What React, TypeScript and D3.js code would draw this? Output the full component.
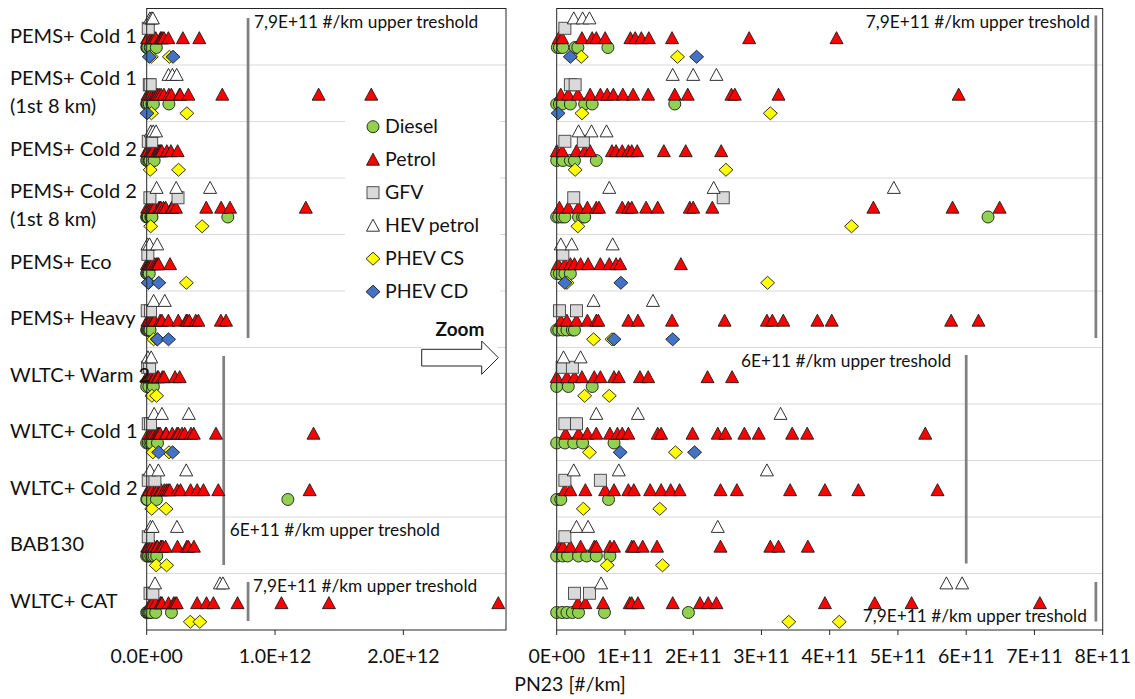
import React from "react";
import * as d3 from "d3";

// ---------- data (PN23 emissions, values in units of 1e11 #/km) ----------
const categories = [
  "PEMS+ Cold 1",
  "PEMS+ Cold 1\n(1st 8 km)",
  "PEMS+ Cold 2",
  "PEMS+ Cold 2\n(1st 8 km)",
  "PEMS+ Eco",
  "PEMS+ Heavy",
  "WLTC+ Warm 2",
  "WLTC+ Cold 1",
  "WLTC+ Cold 2",
  "BAB130",
  "WLTC+ CAT",
];

const UNIT = 1e11;

const diesel: number[][] = [
  [0.01, 0.04, 0.09, 0.27, 0.31, 0.75],
  [0, 0.04, 0.08, 0.2, 0.41, 0.52, 1.73],
  [0, 0.09, 0.2, 0.26, 0.58],
  [0, 0.03, 0.08, 0.12, 0.32, 0.38, 0.41, 6.32],
  [0, 0.04, 0.12, 0.2],
  [0, 0.03, 0.09, 0.15, 0.23, 0.26],
  [0, 0.17, 0.52],
  [0, 0.12, 0.25, 0.38, 0.84],
  [0, 0.06, 0.76, 11.0],
  [0, 0.09, 0.16, 0.32, 0.44, 0.58, 0.78],
  [0, 0.08, 0.15, 0.23, 0.32, 0.7, 1.93],
];

const petrol: number[][] = [
  [0.03, 0.08, 0.37, 0.52, 0.58, 0.71, 1.08, 1.15, 1.24, 1.35, 1.69, 2.82, 4.1],
  [0.06, 0.17, 0.31, 0.49, 0.64, 0.74, 0.83, 0.97, 1.12, 1.34, 1.73, 1.92, 2.56, 2.61, 3.25, 5.89, 13.4, 17.5],
  [0.0, 0.08, 0.29, 0.41, 0.49, 0.81, 0.87, 0.96, 1.05, 1.1, 1.18, 1.57, 1.89, 2.41],
  [0.04, 0.17, 0.32, 0.45, 0.58, 0.62, 0.96, 1.05, 1.1, 1.31, 1.48, 1.95, 2.0, 2.28, 4.64, 5.8, 6.49, 12.4],
  [0.02, 0.12, 0.2, 0.26, 0.35, 0.46, 0.64, 0.77, 0.87, 0.93, 1.82],
  [0.06, 0.15, 0.29, 0.45, 0.58, 0.61, 1.05, 1.19, 1.69, 2.46, 3.08, 3.16, 3.32, 3.82, 4.03, 5.78, 6.18],
  [0, 0.15, 0.26, 0.37, 0.55, 0.64, 0.84, 0.91, 1.22, 1.34, 2.21, 2.57],
  [0.13, 0.32, 0.45, 0.58, 0.78, 0.89, 0.96, 1.05, 1.48, 1.53, 1.99, 2.36, 2.47, 2.75, 2.96, 3.45, 3.67, 5.4, 13.0],
  [0.12, 0.2, 0.42, 0.71, 0.84, 1.05, 1.13, 1.37, 1.53, 1.67, 1.8, 2.4, 2.64, 3.42, 3.93, 4.42, 5.58, 12.7],
  [0.04, 0.09, 0.2, 0.35, 0.55, 0.58, 0.78, 0.84, 1.1, 1.13, 1.26, 1.47, 2.4, 3.13, 3.25, 3.68],
  [0.31, 0.42, 0.68, 1.07, 1.1, 1.19, 1.7, 2.1, 2.22, 2.34, 3.93, 4.66, 5.2, 7.08, 10.5, 14.2, 27.4],
];

const gfv: number[][] = [
  [0.12],
  [0.2, 0.27],
  [0.12, 0.39],
  [0.25, 2.44],
  [0.09],
  [0.04, 0.29],
  [0.08, 0.23],
  [0.12, 0.29],
  [0.12, 0.64],
  [0.12],
  [0.26, 0.48],
];

const hevPetrol: number[][] = [
  [0.25, 0.38, 0.48],
  [1.7, 2.0, 2.34],
  [0.32, 0.51, 0.73],
  [0.77, 2.3, 4.94],
  [0.06, 0.22, 0.82],
  [0.54, 1.41],
  [0.1, 0.35],
  [0.58, 1.19, 3.28],
  [0.25, 0.91, 3.08],
  [0.29, 0.46, 2.36],
  [0.65, 5.71, 5.94],
];

const phevCS: number[][] = [
  [0.36, 1.77],
  [0.37, 3.13],
  [0.27, 2.48],
  [0.31, 4.32],
  [0.15, 3.09],
  [0.54, 0.81],
  [0.41, 0.77],
  [0.48, 1.74],
  [0.39, 1.51],
  [0.74, 1.55],
  [3.4, 4.14],
];

const phevCD: number[][] = [
  [0.2, 2.05],
  [0.02],
  [],
  [],
  [0.12, 0.94],
  [0.84, 1.7],
  [],
  [0.93, 2.02],
  [],
  [],
  [],
];

const seriesNames = ["Diesel", "Petrol", "GFV", "HEV petrol", "PHEV CS", "PHEV CD"];

const leftTicks = [0, 1e12, 2e12];
const leftTickLabels = ["0.0E+00", "1.0E+12", "2.0E+12"];
const rightTicks = [0, 1e11, 2e11, 3e11, 4e11, 5e11, 6e11, 7e11, 8e11];
const rightTickLabels = ["0E+00", "1E+11", "2E+11", "3E+11", "4E+11", "5E+11", "6E+11", "7E+11", "8E+11"];

const threshold79 = 7.9e11;
const threshold6 = 6e11;
const label79 = "7,9E+11 #/km upper treshold";
const label6 = "6E+11 #/km upper treshold";
const axisTitle = "PN23 [#/km]";

// ---------- styling ----------
const FONT = "Lato, 'Open Sans', Arial, sans-serif";
const CAT_FS = 20;
const TICK_FS = 19.5;
const THR_FS = 17.3;
const LEG_FS = 19.5;

type Shape = "circle" | "triangle" | "square" | "diamond";
interface SeriesDef {
  name: string;
  data: number[][];
  shape: Shape;
  fill: string;
  stroke: string;
  offset: number; // fraction of band
}

const series: SeriesDef[] = [
  { name: seriesNames[0], data: diesel, shape: "circle", fill: "#92D050", stroke: "#1a1a1a", offset: 0.69 },
  { name: seriesNames[1], data: petrol, shape: "triangle", fill: "#FF0000", stroke: "#1a1a1a", offset: 0.525 },
  { name: seriesNames[2], data: gfv, shape: "square", fill: "#D9D9D9", stroke: "#404040", offset: 0.35 },
  { name: seriesNames[3], data: hevPetrol, shape: "triangle", fill: "#FFFFFF", stroke: "#1a1a1a", offset: 0.175 },
  { name: seriesNames[4], data: phevCS, shape: "diamond", fill: "#FFFF00", stroke: "#1a1a1a", offset: 0.855 },
  { name: seriesNames[5], data: phevCD, shape: "diamond", fill: "#4472C4", stroke: "#1a1a1a", offset: 0.855 },
];

function Marker({ shape, x, y, fill, stroke }: { shape: Shape; x: number; y: number; fill: string; stroke: string }) {
  const sw = 0.9;
  if (shape === "circle") return <circle cx={x} cy={y} r={6} fill={fill} stroke={stroke} strokeWidth={sw} />;
  if (shape === "square")
    return <rect x={x - 6} y={y - 6} width={12} height={12} fill={fill} stroke={stroke} strokeWidth={sw} />;
  if (shape === "triangle")
    return (
      <path
        d={`M${x},${y - 6.5} L${x + 6.5},${y + 5.5} L${x - 6.5},${y + 5.5} Z`}
        fill={fill}
        stroke={stroke}
        strokeWidth={sw}
      />
    );
  return (
    <path
      d={`M${x},${y - 6.5} L${x + 7},${y} L${x},${y + 6.5} L${x - 7},${y} Z`}
      fill={fill}
      stroke={stroke}
      strokeWidth={sw}
    />
  );
}

export default function App() {
  const W = 1135;
  const H = 699;
  const top = 8.5;
  const bottom = 630;

  const y = d3
    .scaleBand<number>()
    .domain(categories.map((_, i) => i))
    .range([top, bottom])
    .paddingInner(0)
    .paddingOuter(0);
  const bw = y.bandwidth();

  const xL = d3.scaleLinear().domain([0, 2.8e12]).range([146.7, 506]);
  const xR = d3.scaleLinear().domain([0, 8e11]).range([556.7, 1102.7]);

  const gridLines = categories.slice(0, -1).map((_, i) => (y(i) as number) + bw);

  const renderPoints = (x: d3.ScaleLinear<number, number>, maxVal: number, key: string) =>
    series.map((s) => (
      <g key={key + s.name}>
        {s.data.map((row, ci) =>
          row
            .map((v) => v * UNIT)
            .filter((v) => v <= maxVal)
            .map((v, j) => (
              <Marker
                key={ci + "-" + j}
                shape={s.shape}
                x={x(v)}
                y={(y(ci) as number) + bw * s.offset}
                fill={s.fill}
                stroke={s.stroke}
              />
            ))
        )}
      </g>
    ));

  const bandTop = (i: number) => y(i) as number;
  const bandBot = (i: number) => (y(i) as number) + bw;
  const lineColor = "#808080";
  const axisColor = "#262626";

  // legend
  const legendX = 373;
  const legendY0 = 126.7;
  const legendStep = 33;

  return (
    <svg
      width={W}
      height={H}
      style={{ position: "absolute", left: 0, top: 0, background: "#fff" }}
      fontFamily={FONT}
    >
      <rect x={0} y={0} width={W} height={H} fill="#fff" />

      {/* ---------- LEFT PANEL ---------- */}
      <g>
        {gridLines.map((gy, i) => (
          <line key={"gl" + i} x1={xL.range()[0]} x2={xL.range()[1]} y1={gy} y2={gy} stroke="#D9D9D9" strokeWidth={1} />
        ))}
        {/* thresholds */}
        <line x1={xL(threshold79)} x2={xL(threshold79)} y1={bandTop(0) + 9.5} y2={bandBot(5) - 9.5} stroke={lineColor} strokeWidth={2.75} />
        <line x1={xL(threshold6)} x2={xL(threshold6)} y1={bandTop(6) + 8.5} y2={bandBot(9) - 8.5} stroke={lineColor} strokeWidth={2.75} />
        <line x1={xL(threshold79)} x2={xL(threshold79)} y1={bandTop(10) + 8.5} y2={bandBot(10) - 9} stroke={lineColor} strokeWidth={2.75} />
        <text x={xL(threshold79) + 6} y={bandTop(0) + 15.5} fontSize={THR_FS} dominantBaseline="middle" fill="#111">
          {label79}
        </text>
        <text x={xL(threshold6) + 6} y={bandTop(9) + 15} fontSize={THR_FS} dominantBaseline="middle" fill="#111">
          {label6}
        </text>
        <text x={xL(threshold79) + 5} y={bandTop(10) + 14.5} fontSize={THR_FS} dominantBaseline="middle" fill="#111">
          {label79}
        </text>

        {renderPoints(xL, 2.8e12, "L")}

        {/* frame */}
        <rect
          x={xL.range()[0]}
          y={top}
          width={xL.range()[1] - xL.range()[0]}
          height={bottom - top}
          fill="none"
          stroke={axisColor}
          strokeWidth={1}
        />
        {leftTicks.map((t, i) => (
          <g key={"lt" + i}>
            <line x1={xL(t)} x2={xL(t)} y1={bottom} y2={bottom + 5} stroke={axisColor} />
            <text x={xL(t)} y={658} fontSize={TICK_FS} textAnchor="middle" dominantBaseline="middle" fill="#111">
              {leftTickLabels[i]}
            </text>
          </g>
        ))}

        {/* category labels */}
        {categories.map((c, i) => {
          const lines = c.split("\n");
          const cy = bandTop(i) + bw / 2 + 1;
          return (
            <text key={"cat" + i} x={10} fontSize={CAT_FS} fill="#111" dominantBaseline="middle">
              {lines.map((ln, k) => (
                <tspan key={k} x={10} y={cy + (k - (lines.length - 1) / 2) * 28}>
                  {ln}
                </tspan>
              ))}
            </text>
          );
        })}

        {/* legend */}
        <rect x={345} y={112} width={155} height={194} fill="#fff" />
        {series.map((s, i) => (
          <g key={"lg" + i}>
            <Marker shape={s.shape} x={legendX} y={legendY0 + i * legendStep} fill={s.fill} stroke={s.stroke} />
            <text x={legendX + 12} y={legendY0 + i * legendStep + 1} fontSize={LEG_FS} dominantBaseline="middle" fill="#111">
              {s.name}
            </text>
          </g>
        ))}

        {/* zoom callout */}
        <rect x={421.5} y={316} width={76} height={32} fill="#fff" />
        <text x={460} y={331} fontSize={19} fontWeight="bold" textAnchor="middle" dominantBaseline="middle" fill="#111">
          Zoom
        </text>
        <path
          d="M421.7,349.3 L481.7,349.3 L481.7,341 L498.3,357.7 L481.7,374.3 L481.7,366 L421.7,366 Z"
          fill="#fff"
          stroke="#222"
          strokeWidth={1}
        />
      </g>

      {/* ---------- RIGHT PANEL ---------- */}
      <g>
        {gridLines.map((gy, i) => (
          <line key={"gr" + i} x1={xR.range()[0]} x2={xR.range()[1]} y1={gy} y2={gy} stroke="#D9D9D9" strokeWidth={1} />
        ))}
        <line x1={xR(threshold79)} x2={xR(threshold79)} y1={bandTop(0) + 7} y2={bandBot(5) - 9.5} stroke={lineColor} strokeWidth={2.75} />
        <line x1={xR(threshold6)} x2={xR(threshold6)} y1={bandTop(6) + 7.5} y2={bandBot(9) - 10} stroke={lineColor} strokeWidth={2.75} />
        <line x1={xR(threshold79)} x2={xR(threshold79)} y1={bandTop(10) + 8.5} y2={bandBot(10) - 8.5} stroke={lineColor} strokeWidth={2.75} />
        <text x={xR(threshold79) - 6} y={bandTop(0) + 15.5} fontSize={THR_FS} textAnchor="end" dominantBaseline="middle" fill="#111">
          {label79}
        </text>
        <text x={xR(threshold6) - 15} y={bandTop(6) + 15} fontSize={THR_FS} textAnchor="end" dominantBaseline="middle" fill="#111">
          {label6}
        </text>
        <text x={xR(threshold79) - 9} y={bandBot(10) - 12} fontSize={THR_FS} textAnchor="end" dominantBaseline="middle" fill="#111">
          {label79}
        </text>

        {renderPoints(xR, 8e11, "R")}

        <rect
          x={xR.range()[0]}
          y={top}
          width={xR.range()[1] - xR.range()[0]}
          height={bottom - top}
          fill="none"
          stroke={axisColor}
          strokeWidth={1}
        />
        {rightTicks.map((t, i) => (
          <g key={"rt" + i}>
            <line x1={xR(t)} x2={xR(t)} y1={bottom} y2={bottom + 5} stroke={axisColor} />
            <text x={xR(t)} y={658} fontSize={TICK_FS} textAnchor="middle" dominantBaseline="middle" fill="#111">
              {rightTickLabels[i]}
            </text>
          </g>
        ))}
        <text x={570} y={686} fontSize={TICK_FS} textAnchor="middle" dominantBaseline="middle" fill="#111">
          {axisTitle}
        </text>
      </g>
    </svg>
  );
}
